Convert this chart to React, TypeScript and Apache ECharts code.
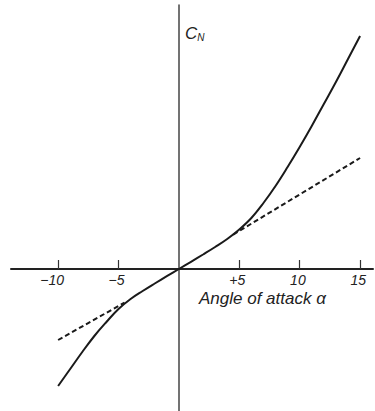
import React, { useEffect, useRef } from "react";
import * as echarts from "echarts";

const alpha = [-10, -9, -8, -7, -6, -5, -4, -3, -2, -1, 0, 1, 2, 3, 4, 5, 6, 7, 8, 9, 10, 11, 12, 13, 14, 15];
const cn = [-0.585, -0.5, -0.415, -0.335, -0.265, -0.2, -0.15, -0.11, -0.0725, -0.036, 0, 0.036, 0.0725, 0.11, 0.15, 0.1975, 0.255, 0.33, 0.415, 0.51, 0.61, 0.715, 0.825, 0.935, 1.05, 1.165];
const tangentLeftAlpha = [-10, -4.5];
const tangentLeftCn = [-0.355, -0.168];
const tangentRightAlpha = [4.5, 15];
const tangentRightCn = [0.172, 0.555];
const tickValues = [-10, -5, 5, 10, 15];
const tickLabels = ["\u221210", "\u22125", "+5", "10", "15"];

export default function App() {
  const ref = useRef<HTMLDivElement>(null);
  useEffect(() => {
    document.body.style.margin = "0";
    const chart = echarts.init(ref.current!, null, { renderer: "svg" });
    const font = "'Liberation Sans', 'DejaVu Sans', sans-serif";
    chart.setOption({
      animation: false,
      backgroundColor: "#ffffff",
      grid: { left: 11, right: 2, top: 5, bottom: 0, containLabel: false, outerBoundsMode: "none" },
      xAxis: {
        type: "value",
        min: -13.9,
        max: 16.07,
        axisLine: { onZero: true, lineStyle: { color: "#222", width: 2 } },
        axisTick: { show: true, inside: true, length: 9, customValues: tickValues, lineStyle: { color: "#333", width: 1.2 } },
        axisLabel: { show: false },
        splitLine: { show: false },
      },
      yAxis: {
        type: "value",
        min: -0.71,
        max: 1.32,
        axisLine: { show: true, onZero: true, lineStyle: { color: "#444", width: 1.5 } },
        axisTick: { show: false },
        axisLabel: { show: false },
        splitLine: { show: false },
      },
      series: [
        {
          type: "line",
          data: alpha.map((a, i) => [a, cn[i]]),
          smooth: 0.4,
          showSymbol: false,
          lineStyle: { color: "#1a1a1a", width: 2 },
        },
        {
          type: "line",
          data: tangentLeftAlpha.map((a, i) => [a, tangentLeftCn[i]]),
          showSymbol: false,
          lineStyle: { color: "#1a1a1a", width: 2, type: [5, 3] },
        },
        {
          type: "line",
          data: tangentRightAlpha.map((a, i) => [a, tangentRightCn[i]]),
          showSymbol: false,
          lineStyle: { color: "#1a1a1a", width: 2, type: [5, 3] },
        },
      ],
    });
    const labelGraphics = tickValues.map((v, i) => {
      const [px, py] = chart.convertToPixel({ gridIndex: 0 }, [v, 0]) as number[];
      return {
        type: "text",
        x: px + 6,
        y: py + 4,
        style: {
          text: tickLabels[i],
          fontSize: 14,
          fontStyle: "italic",
          fontFamily: font,
          fill: "#222",
          textAlign: "right",
          textVerticalAlign: "top",
        },
      };
    });
    chart.setOption({
      graphic: [
        ...labelGraphics,
        {
          type: "text",
          left: 185,
          top: 25,
          style: {
            text: "{c|C}{n|N}",
            rich: {
              c: { fontSize: 17, fontStyle: "italic", fontFamily: font, fill: "#222" },
              n: { fontSize: 10, fontStyle: "italic", fontFamily: font, fill: "#222", padding: [8, 0, 0, 0] },
            },
          },
        },
        {
          type: "text",
          left: 199,
          top: 290,
          style: {
            text: "Angle of attack \u03b1",
            fontSize: 17,
            fontStyle: "italic",
            fontFamily: font,
            fill: "#222",
          },
        },
      ],
    });
    return () => chart.dispose();
  }, []);
  return <div ref={ref} style={{ width: 375, height: 411 }} />;
}
